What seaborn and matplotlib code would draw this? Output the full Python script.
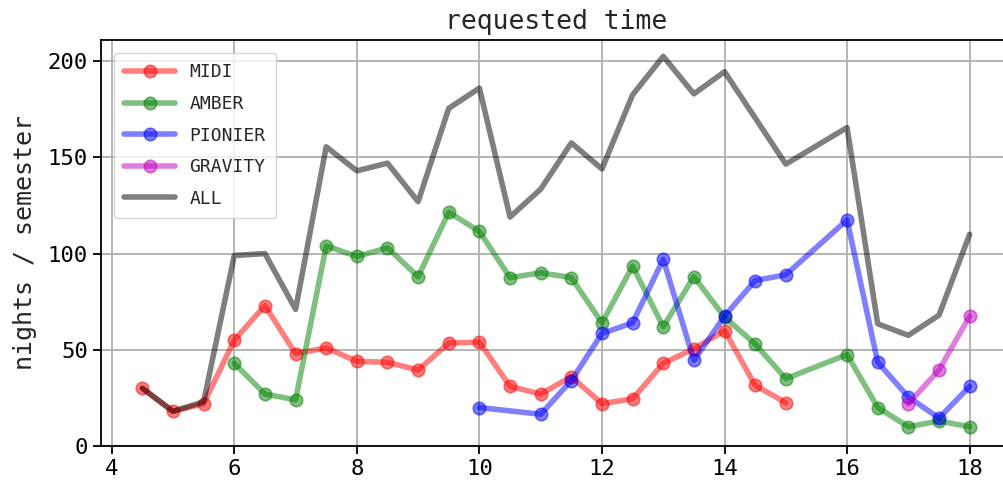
import matplotlib
matplotlib.use("Agg")
import matplotlib.pyplot as plt
import seaborn as sns

sns.set_style("ticks", {"axes.grid": True})
plt.rcParams["font.family"] = ["DejaVu Sans Mono", "DejaVu Sans"]

# semesters and requested nights per instrument
midi_x = [4.5, 5, 5.5, 6, 6.5, 7, 7.5, 8, 8.5, 9, 9.5, 10, 10.5, 11, 11.5, 12,
          12.5, 13, 13.5, 14, 14.5, 15]
midi_y = [30, 18, 22, 55, 73, 48, 51, 44, 43.5, 39.5, 53.5, 54, 31, 27, 36, 22,
          24.5, 43, 50.5, 60, 31.5, 22.5]

amber_x = [6, 6.5, 7, 7.5, 8, 8.5, 9, 9.5, 10, 10.5, 11, 11.5, 12, 12.5, 13,
           13.5, 14, 14.5, 15, 16, 16.5, 17, 17.5, 18]
amber_y = [43, 27, 24, 104, 98.5, 103, 88, 121.5, 111.5, 87.5, 90, 87.5, 64,
           93.5, 62, 88, 67, 53, 35, 47.5, 20, 10, 13, 10]

pionier_x = [10, 11, 11.5, 12, 12.5, 13, 13.5, 14, 14.5, 15, 16, 16.5, 17,
             17.5, 18]
pionier_y = [20, 16.5, 34, 58.5, 64, 97, 44.5, 67.5, 86, 89, 117.5, 43.5, 25.5,
             14.5, 31]

gravity_x = [17, 17.5, 18]
gravity_y = [22, 39.5, 67.5]

all_x = [4.5, 5, 5.5, 6, 6.5, 7, 7.5, 8, 8.5, 9, 9.5, 10, 10.5, 11, 11.5, 12,
         12.5, 13, 13.5, 14, 14.5, 15, 16, 16.5, 17, 17.5, 18]
all_y = [30, 18, 23, 99, 100, 71, 155.5, 143, 147, 127, 175.5, 186, 119, 133.5,
         157.5, 144, 182.5, 202.5, 183, 194.5, 170.5, 146.5, 165.5, 63.5, 57.5,
         68, 110]

fig = plt.figure(figsize=(10.04, 4.84), dpi=100)
ax = fig.add_axes([101 / 1004, 38 / 484, 910 / 1004, 406 / 484])

series = [
    ("MIDI", midi_x, midi_y, "r"),
    ("AMBER", amber_x, amber_y, "g"),
    ("PIONIER", pionier_x, pionier_y, "b"),
    ("GRAVITY", gravity_x, gravity_y, "m"),
]
for name, xs, ys, col in series:
    sns.lineplot(x=xs, y=ys, ax=ax, color=col, alpha=0.5, lw=4, marker="o",
                 markersize=9, mec=col, mew=1.2, label=name)
sns.lineplot(x=all_x, y=all_y, ax=ax, color="k", alpha=0.5, lw=4, label="ALL")

ax.set_xlim(3.825, 18.675)
ax.set_ylim(0, 211)
ax.set_xticks([4, 6, 8, 10, 12, 14, 16, 18])
ax.set_yticks([0, 50, 100, 150, 200])
ax.grid(True, color="#b0b0b0", lw=1.3)
for s in ax.spines.values():
    s.set_color("black")
    s.set_linewidth(1.3)
ax.spines["right"].set_visible(False)
ax.tick_params(axis="both", direction="out", length=6, width=1.3,
               labelsize=16, colors="black")
ax.set_title("requested time", fontsize=19, pad=8)
ax.set_ylabel("nights / semester", fontsize=18, labelpad=8)

ax.legend(loc="upper left", fontsize=13, labelspacing=0.75, handlelength=2.8,
          handletextpad=0.8, borderpad=0.6, borderaxespad=0.7, framealpha=0.8)

fig.savefig("out.png", dpi=100)
